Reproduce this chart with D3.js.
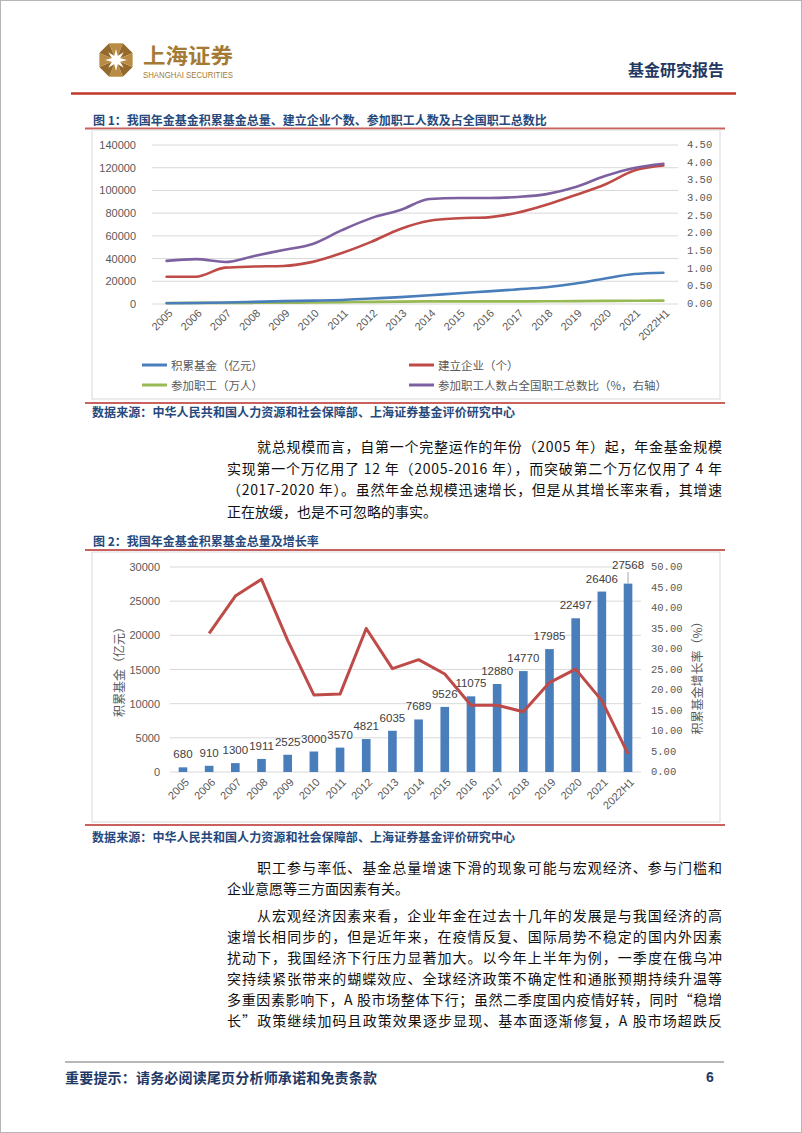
<!DOCTYPE html>
<html><head><meta charset="utf-8">
<script src="https://cdn.jsdelivr.net/npm/d3@7"></script>
<style>body{margin:0;background:#fff}svg{display:block}</style>
</head><body>
<svg id="page" width="802" height="1133"></svg>
<script>
// ---------------- data ----------------
const years = ["2005","2006","2007","2008","2009","2010","2011","2012","2013","2014","2015","2016","2017","2018","2019","2020","2021","2022H1"];
const fundTotal = [680,910,1300,1911,2525,3000,3570,4821,6035,7689,9526,11075,12880,14770,17985,22497,26406,27568];
const firms = [24000,24000,32000,33000,33500,37100,44900,54700,66100,73300,75500,76300,80400,87400,96000,105200,117500,121900];
const employees = [924,964,929,1038,1179,1335,1577,1847,2056,2293,2316,2325,2331,2388,2548,2718,2875,2950];
const shareRatio = [1.22,1.27,1.19,1.36,1.53,1.70,2.09,2.43,2.66,2.97,3.00,3.00,3.03,3.11,3.31,3.62,3.85,3.97];
const growthRate = [null,33.8,42.9,47.0,32.1,18.8,19.0,35.0,25.2,27.4,23.9,16.3,16.3,14.7,21.8,25.1,17.4,4.4];
const leftTicks1 = [0,20000,40000,60000,80000,100000,120000,140000];
const rightTicks1 = [0,0.5,1,1.5,2,2.5,3,3.5,4,4.5];
const leftTicks2 = [0,5000,10000,15000,20000,25000,30000];
const rightTicks2 = [0,5,10,15,20,25,30,35,40,45,50];
const legend1 = [
  {name:"积累基金（亿元）", color:"#4a7ebb"},
  {name:"建立企业（个）", color:"#be4b48"},
  {name:"参加职工（万人）", color:"#98b954"},
  {name:"参加职工人数占全国职工总数比（%，右轴）", color:"#7d60a0"}
];
const para1 = [
  {t:"就总规模而言，自第一个完整运作的年份（2005 年）起，年金基金规模", indent:true, j:true},
  {t:"实现第一个万亿用了 12 年（2005-2016 年），而突破第二个万亿仅用了 4 年", j:true},
  {t:"（2017-2020 年）。虽然年金总规模迅速增长，但是从其增长率来看，其增速", j:true},
  {t:"正在放缓，也是不可忽略的事实。"}
];
const para2 = [
  {t:"职工参与率低、基金总量增速下滑的现象可能与宏观经济、参与门槛和", indent:true, j:true},
  {t:"企业意愿等三方面因素有关。"}
];
const para3 = [
  {t:"从宏观经济因素来看，企业年金在过去十几年的发展是与我国经济的高", indent:true, j:true},
  {t:"速增长相同步的，但是近年来，在疫情反复、国际局势不稳定的国内外因素", j:true},
  {t:"扰动下，我国经济下行压力显著加大。以今年上半年为例，一季度在俄乌冲", j:true},
  {t:"突持续紧张带来的蝴蝶效应、全球经济政策不确定性和通胀预期持续升温等", j:true},
  {t:"多重因素影响下，A 股市场整体下行；虽然二季度国内疫情好转，同时“稳增", j:true},
  {t:"长”政策继续加码且政策效果逐步显现、基本面逐渐修复，A 股市场超跌反", j:true}
];

// ---------------- page ----------------
const svg = d3.select("#page");
const CJK = "'Noto Sans CJK SC', sans-serif";
const NUM = "'Liberation Sans', Arial, sans-serif";
const MONO = "'Liberation Mono', 'DejaVu Sans Mono', monospace";
const NAVY = "#1f3864", TBLUE = "#25497d", GOLD = "#a57a36";

svg.append("rect").attr("x",0.5).attr("y",0.5).attr("width",801).attr("height",1132)
  .attr("fill","#fff").attr("stroke","#b5b5b5");

// logo emblem
const lg = svg.append("g").attr("transform","translate(116,60)");
const R = 18;
for (let k=0;k<8;k++){
  const a1 = (22.5+45*k)*Math.PI/180, a2=(22.5+45*(k+1))*Math.PI/180;
  lg.append("path").attr("d",`M0,0L${R*Math.cos(a1)},${R*Math.sin(a1)}L${R*Math.cos(a2)},${R*Math.sin(a2)}Z`)
    .attr("fill", k%2? "#b98c45":"#94692c");
}
for (let k=0;k<8;k++){
  const a=(45*k)*Math.PI/180;
  lg.append("path").attr("d",`M${4*Math.cos(a-0.5)},${4*Math.sin(a-0.5)}L${11*Math.cos(a)},${11*Math.sin(a)}L${4*Math.cos(a+0.5)},${4*Math.sin(a+0.5)}Z`).attr("fill","#fff");
}
lg.append("circle").attr("r",4.5).attr("fill","#fff");
svg.append("text").attr("x",143).attr("y",54).attr("dominant-baseline","central")
  .attr("font-family",CJK).attr("font-weight",700).attr("font-size",21).attr("fill",GOLD)
  .attr("textLength",90).attr("lengthAdjust","spacingAndGlyphs").text("上海证券");
svg.append("text").attr("x",143).attr("y",75).attr("dominant-baseline","central")
  .attr("font-family","'Liberation Sans Narrow','Liberation Sans',sans-serif").attr("font-size",8.5).attr("fill",GOLD)
  .attr("textLength",90).attr("lengthAdjust","spacingAndGlyphs").text("SHANGHAI SECURITIES");
svg.append("text").attr("x",724).attr("y",69).attr("text-anchor","end").attr("dominant-baseline","central")
  .attr("font-family",CJK).attr("font-weight",700).attr("font-size",16).attr("fill",NAVY).text("基金研究报告");
svg.append("line").attr("x1",71).attr("x2",736).attr("y1",93.5).attr("y2",93.5).attr("stroke","#c0392b").attr("stroke-width",2.5);

function title(txt, y, lineY){
  svg.append("text").attr("x",93).attr("y",y).attr("dominant-baseline","central")
    .attr("font-family",CJK).attr("font-weight",700).attr("font-size",12).attr("fill",TBLUE).text(txt);
  svg.append("line").attr("x1",85).attr("x2",725).attr("y1",lineY).attr("y2",lineY).attr("stroke","#c9625f").attr("stroke-width",2);
}
function source(y, lineY){
  svg.append("line").attr("x1",85).attr("x2",725).attr("y1",lineY).attr("y2",lineY).attr("stroke","#c9625f").attr("stroke-width",2);
  svg.append("text").attr("x",92).attr("y",y).attr("dominant-baseline","central")
    .attr("font-family",CJK).attr("font-weight",700).attr("font-size",12).attr("fill",TBLUE)
    .attr("textLength",423).attr("lengthAdjust","spacing")
    .text("数据来源：中华人民共和国人力资源和社会保障部、上海证券基金评价研究中心");
}
function para(lines, y0, lh){
  lines.forEach((l,i)=>{
    const x = 227 + (l.indent?30:0);
    const t = svg.append("text").attr("x",x).attr("y",y0+i*lh).attr("dominant-baseline","central")
      .attr("font-family",CJK).attr("font-size",14).attr("fill","#111").text(l.t);
    if (l.j) t.attr("textLength",722-x).attr("lengthAdjust","spacing");
  });
}

// ---------------- chart 1 ----------------
title("图 1：我国年金基金积累基金总量、建立企业个数、参加职工人数及占全国职工总数比", 119, 128.5);
svg.append("rect").attr("x",92).attr("y",130).attr("width",628).attr("height",269).attr("fill","none").attr("stroke","#d9d9d9");
{
  const x = d3.scalePoint().domain(years).range([152,678]).padding(0.5);
  const yL = d3.scaleLinear().domain([0,140000]).range([304,145]);
  const yR = d3.scaleLinear().domain([0,4.5]).range([304,145]);
  const g = svg.append("g");
  g.selectAll(".gl").data(leftTicks1).join("line").attr("x1",152).attr("x2",678)
    .attr("y1",d=>yL(d)).attr("y2",d=>yL(d)).attr("stroke","#d9d9d9").attr("stroke-width",1);
  g.selectAll(".lt").data(leftTicks1).join("text").attr("x",136).attr("y",d=>yL(d))
    .attr("text-anchor","end").attr("dominant-baseline","central").attr("font-family",NUM)
    .attr("font-size",11).attr("fill","#595959").text(d=>d);
  g.selectAll(".rt").data(rightTicks1).join("text").attr("x",687).attr("y",d=>yR(d))
    .attr("dominant-baseline","central").attr("font-family",MONO)
    .attr("font-size",10.5).attr("fill","#595959").text(d=>d.toFixed(2));
  g.selectAll(".xt").data(years).join("text")
    .attr("transform",d=>`translate(${x(d)+4},${311}) rotate(-45)`)
    .attr("text-anchor","end").attr("dominant-baseline","central").attr("font-family",NUM)
    .attr("font-size",11).attr("fill","#595959").text(d=>d);
  const series = [
    {v:employees, s:yL, c:legend1[2].color},
    {v:fundTotal, s:yL, c:legend1[0].color},
    {v:firms, s:yL, c:legend1[1].color},
    {v:shareRatio, s:yR, c:legend1[3].color}
  ];
  series.forEach(se=>{
    const line = d3.line().x((d,i)=>x(years[i])).y(d=>se.s(d)).curve(d3.curveMonotoneX);
    g.append("path").attr("d",line(se.v)).attr("fill","none").attr("stroke",se.c)
      .attr("stroke-width",2.6).attr("stroke-linecap","round");
  });
  const lpos = [[142,365],[409,365],[142,385],[409,385]];
  legend1.forEach((l,i)=>{
    const [lx,ly]=lpos[i];
    g.append("line").attr("x1",lx).attr("x2",lx+25).attr("y1",ly).attr("y2",ly).attr("stroke",l.color).attr("stroke-width",3);
    g.append("text").attr("x",lx+29).attr("y",ly).attr("dominant-baseline","central")
      .attr("font-family",CJK).attr("font-size",11.5).attr("fill","#595959").text(l.name);
  });
}
source(411, 403);

para(para1, 446, 21.5);

// ---------------- chart 2 ----------------
title("图 2：我国年金基金积累基金总量及增长率", 540, 550);
svg.append("rect").attr("x",92).attr("y",552).attr("width",628).attr("height",270).attr("fill","none").attr("stroke","#d9d9d9");
{
  const x = d3.scaleBand().domain(years).range([170,641]).paddingInner(0.67).paddingOuter(0.33);
  const yL = d3.scaleLinear().domain([0,30000]).range([772,567]);
  const yR = d3.scaleLinear().domain([0,50]).range([772,567]);
  const cx = d=>x(d)+x.bandwidth()/2;
  const g = svg.append("g");
  g.selectAll(".gl").data(leftTicks2).join("line").attr("x1",170).attr("x2",641)
    .attr("y1",d=>yL(d)).attr("y2",d=>yL(d)).attr("stroke","#d9d9d9").attr("stroke-width",1);
  g.selectAll(".lt").data(leftTicks2).join("text").attr("x",160).attr("y",d=>yL(d))
    .attr("text-anchor","end").attr("dominant-baseline","central").attr("font-family",NUM)
    .attr("font-size",11).attr("fill","#595959").text(d=>d);
  g.selectAll(".rt").data(rightTicks2).join("text").attr("x",651).attr("y",d=>yR(d))
    .attr("dominant-baseline","central").attr("font-family",MONO)
    .attr("font-size",10.5).attr("fill","#595959").text(d=>d.toFixed(2));
  g.selectAll(".bar").data(years).join("rect")
    .attr("x",d=>x(d)).attr("width",x.bandwidth())
    .attr("y",(d,i)=>yL(fundTotal[i])).attr("height",(d,i)=>772-yL(fundTotal[i]))
    .attr("fill","#4a7ebb");
  const last = years.length-1;
  g.selectAll(".dl").data(years).join("text")
    .attr("x",d=>cx(d)).attr("y",(d,i)=> i===last ? 565 : yL(fundTotal[i])-13)
    .attr("text-anchor","middle").attr("dominant-baseline","central").attr("font-family",NUM)
    .attr("font-size",11.5).attr("fill","#404040").text((d,i)=>fundTotal[i]);
  g.append("line").attr("x1",cx(years[last])).attr("x2",cx(years[last]))
    .attr("y1",572).attr("y2",yL(fundTotal[last])).attr("stroke","#a6a6a6").attr("stroke-width",1);
  const line = d3.line().defined(d=>d!==null).x((d,i)=>cx(years[i])).y(d=>yR(d));
  g.append("path").attr("d",line(growthRate)).attr("fill","none").attr("stroke","#be4b48")
    .attr("stroke-width",3).attr("stroke-linejoin","round");
  g.selectAll(".xt").data(years).join("text")
    .attr("transform",d=>`translate(${cx(d)+4},${780}) rotate(-45)`)
    .attr("text-anchor","end").attr("dominant-baseline","central").attr("font-family",NUM)
    .attr("font-size",11).attr("fill","#595959").text(d=>d);
  g.append("text").attr("transform","translate(118,669) rotate(-90)").attr("text-anchor","middle")
    .attr("dominant-baseline","central").attr("font-family",CJK).attr("font-size",12).attr("fill","#595959")
    .text("积累基金（亿元）");
  g.append("text").attr("transform","translate(696,675) rotate(-90)").attr("text-anchor","middle")
    .attr("dominant-baseline","central").attr("font-family",CJK).attr("font-size",12).attr("fill","#595959")
    .text("积累基金增长率（%）");
}
source(836, 825);

para(para2, 867, 21);
para(para3, 915, 21);

// footer
svg.append("line").attr("x1",65).attr("x2",724).attr("y1",1062).attr("y2",1062).attr("stroke","#a0a0a0").attr("stroke-width",1.5);
svg.append("text").attr("x",65).attr("y",1077).attr("dominant-baseline","central")
  .attr("font-family",CJK).attr("font-weight",700).attr("font-size",14).attr("fill",NAVY)
  .attr("textLength",312).attr("lengthAdjust","spacing").text("重要提示：请务必阅读尾页分析师承诺和免责条款");
svg.append("text").attr("x",710).attr("y",1077).attr("text-anchor","middle").attr("dominant-baseline","central")
  .attr("font-family",NUM).attr("font-weight",700).attr("font-size",14).attr("fill",NAVY).text("6");
</script>
</body></html>
